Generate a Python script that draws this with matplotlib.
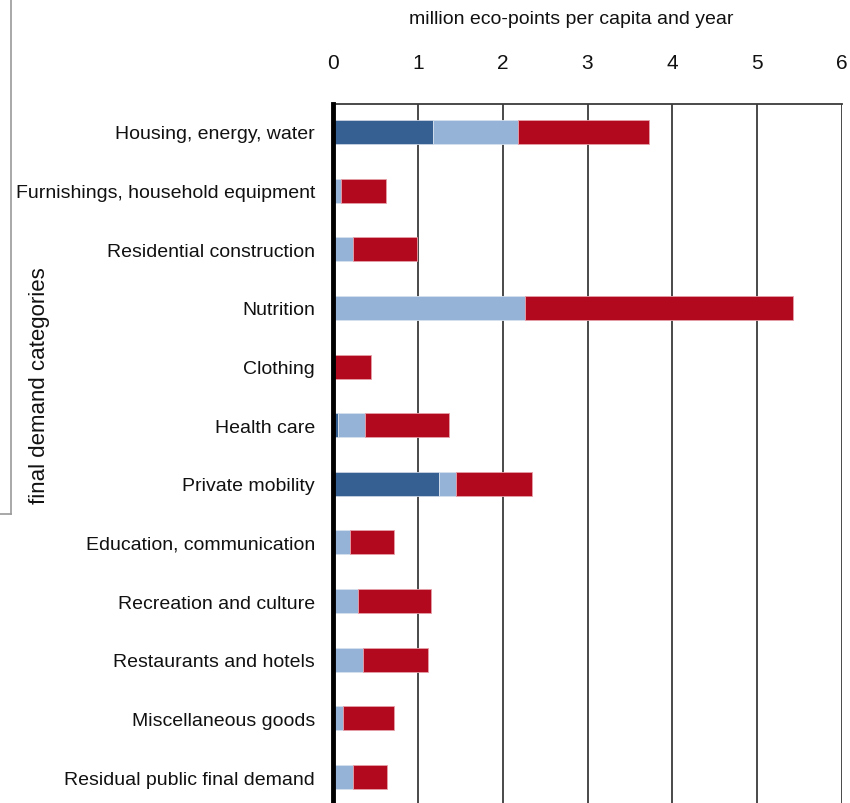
import matplotlib
matplotlib.use("Agg")
import matplotlib.pyplot as plt
from matplotlib.lines import Line2D
import numpy as np

plt.rcParams['font.family'] = ['Liberation Sans', 'DejaVu Sans']

categories = ["Housing, energy, water", "Furnishings, household equipment",
              "Residential construction", "Nutrition", "Clothing", "Health care",
              "Private mobility", "Education, communication", "Recreation and culture",
              "Restaurants and hotels", "Miscellaneous goods", "Residual public final demand"]
dark_blue = [1.18, 0.0, 0.0, 0.0, 0.0, 0.055, 1.25, 0.0, 0.0, 0.0, 0.0, 0.0]
light_blue = [1.00, 0.09, 0.24, 2.26, 0.0, 0.325, 0.20, 0.20, 0.29, 0.35, 0.12, 0.24]
red = [1.55, 0.53, 0.75, 3.16, 0.45, 0.99, 0.90, 0.52, 0.86, 0.77, 0.60, 0.40]
xticks = [0, 1, 2, 3, 4, 5, 6]

W, H = 850, 804
fig = plt.figure(figsize=(W / 100, H / 100), dpi=100)
ax = fig.add_axes([333 / W, 0, (842 - 333) / W, 1 - 105 / H])

y = np.arange(len(categories))
h = 0.41
d = np.array(dark_blue)
l = np.array(light_blue)
r = np.array(red)
ax.barh(y, d, height=h, color='#376092', edgecolor='#c9d3e0', linewidth=0.6, zorder=3)
ax.barh(y, l, left=d, height=h, color='#95B3D7', edgecolor='#d6e1ee', linewidth=0.6, zorder=3)
ax.barh(y, r, left=d + l, height=h, color='#B3091E', edgecolor='#e6a0a8', linewidth=0.6, zorder=3)

ax.set_xlim(0, 6)
ax.set_ylim(11.443, -0.477)
ax.set_xticks(xticks)
ax.set_xticklabels([str(t) for t in xticks])
ax.xaxis.tick_top()
ax.set_yticks(y)
ax.set_yticklabels(categories)
ax.tick_params(axis='x', length=0, pad=23, labelsize=15, labelcolor='#111111')
ax.tick_params(axis='y', length=0, pad=13, labelsize=14, labelcolor='#111111')
ax.xaxis.grid(True, color='#3a3a3a', linewidth=1.3, zorder=0)
ax.set_axisbelow(True)
for s in ['right', 'bottom']:
    ax.spines[s].set_visible(False)
ax.spines['top'].set_color('#3a3a3a')
ax.spines['top'].set_linewidth(1.3)
ax.spines['left'].set_color('black')
ax.spines['left'].set_linewidth(3.5)
ax.spines['left'].set_zorder(5)

fig.text(571 / W, 1 - 20 / H, "million eco-points per capita and year",
         ha='center', va='center', fontsize=14, color='#111111')
fig.text(40 / W, 1 - 386 / H, "final demand categories", rotation=90,
         ha='center', va='center', fontsize=16, color='#111111')

# left border artifact
fig.add_artist(Line2D([11 / W, 11 / W], [1.0, 1 - 515 / H], color='#9a9a9a', linewidth=1.2))
fig.add_artist(Line2D([0, 11 / W], [1 - 515 / H, 1 - 515 / H], color='#9a9a9a', linewidth=1.2))

fig.savefig("out.png", dpi=100)
